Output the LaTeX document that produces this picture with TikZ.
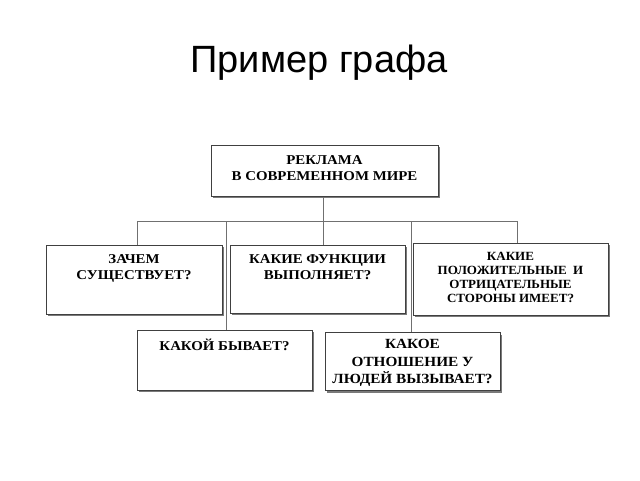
\documentclass[tikz,border=0pt]{standalone}
\usepackage{fontspec}
\setmainfont{Liberation Serif}
\newfontfamily\titlefont{Liberation Sans}
\usetikzlibrary{shadows}
\definecolor{boxline}{HTML}{404040}
\definecolor{conline}{HTML}{707070}
\definecolor{shadowc}{HTML}{7A7A7A}
\tikzset{
  box/.style={draw=boxline, line width=1pt, fill=white, inner sep=0pt,
    drop shadow={shadow xshift=2.2pt, shadow yshift=-2.2pt, fill=shadowc, opacity=1}},
  lbl/.style={anchor=north, inner sep=0pt, align=center, xscale=1.1, font=\bfseries\fontsize{13.5}{15.5}\selectfont},
  conn/.style={draw=conline, line width=0.8pt},
}
\begin{document}
\begin{tikzpicture}[x=1pt, y=-1pt]
\useasboundingbox (0,0) rectangle (640,480);
\node[anchor=base, inner sep=0pt, font=\titlefont\fontsize{38}{40}\selectfont] (title) at (319,72) {Пример графа};

\node[box, minimum width=227pt, minimum height=51pt] (top) at (324.5,170.5) {};
\node[lbl] (toplbl) at (324.5,155.5) {РЕКЛАМА\\В СОВРЕМЕННОМ МИРЕ};

\node[box, minimum width=176pt, minimum height=69pt] (b1) at (134,279.5) {};
\node[lbl] (b1lbl) at (134,254.5) {ЗАЧЕМ\\СУЩЕСТВУЕТ?};

\node[box, minimum width=175pt, minimum height=68pt] (b2) at (317.5,279) {};
\node[lbl] (b2lbl) at (317.5,254.5) {КАКИЕ ФУНКЦИИ\\ВЫПОЛНЯЕТ?};

\node[box, minimum width=195pt, minimum height=72pt] (b3) at (510.5,279) {};
\node[lbl, xscale=1.04/1.1, font=\bfseries\fontsize{12.5}{14}\selectfont] (b3lbl) at (510.5,252.5) {КАКИЕ\\ПОЛОЖИТЕЛЬНЫЕ~~И\\ОТРИЦАТЕЛЬНЫЕ\\СТОРОНЫ ИМЕЕТ?};

\node[box, minimum width=175pt, minimum height=60pt] (b4) at (224.5,360) {};
\node[lbl] (b4lbl) at (224.5,338.5) {КАКОЙ БЫВАЕТ?};

\node[box, minimum width=175pt, minimum height=58pt] (b5) at (412.5,361.5) {};
\node[lbl, xscale=1.09/1.1, font=\bfseries\fontsize{14}{17.5}\selectfont] (b5lbl) at (412.5,339.5) {КАКОЕ\\ОТНОШЕНИЕ У\\ЛЮДЕЙ ВЫЗЫВАЕТ?};

\coordinate (j) at (323,221);
\draw[conn] ([xshift=-1.5pt]top.south) -- (j);
\draw[conn] ([xshift=3pt]b1.north) |- (j);
\draw[conn] ([xshift=6.5pt]b3.north) |- (j);
\draw[conn] (j) -- ([xshift=5.5pt]b2.north);
\draw[conn] ([xshift=1.5pt]b4.north) -- ++(0,-109);
\draw[conn] ([xshift=-1.5pt]b5.north) -- ++(0,-111.5);
\end{tikzpicture}
\end{document}
